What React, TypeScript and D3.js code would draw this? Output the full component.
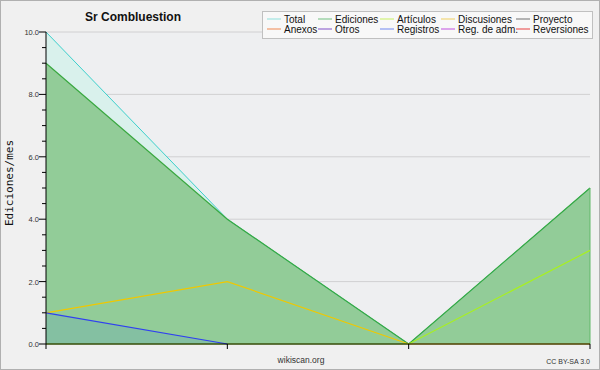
import React from "react";
import * as d3 from "d3";

const months = ["m1", "m2", "m3", "m4"];
const totalValues = [10, 4, 0, 5];
const edicionesValues = [9, 4, 0, 5];
const articulosValues = [0, 0, 0, 3];
const discusionesValues = [1, 2, 0, 0];
const registrosValues = [1, 0, null, null];
const yTicks = [0, 2, 4, 6, 8, 10];
const legendNames = ["Total", "Ediciones", "Artículos", "Discusiones", "Proyecto", "Anexos", "Otros", "Registros", "Reg. de adm.", "Reversiones"];
const legendColors = ["#8ee0dc", "#70c080", "#c8f060", "#f0d060", "#707070", "#f08850", "#8050c8", "#7088f0", "#c050e0", "#e84040"];

const W = 600, H = 370;
const L = 46, R = 590, T = 32, B = 344;
const FONT = "Liberation Sans, Arial, sans-serif";

export default function App() {
  const x = d3.scalePoint<string>().domain(months).range([L, R]);
  const y = d3.scaleLinear().domain([0, 10]).range([B, T]);
  const minor = d3.range(0, 10.01, 0.5);

  const area = (vals: (number | null)[]) =>
    d3.area<number | null>()
      .defined((d) => d !== null)
      .x((_, i) => x(months[i])!)
      .y0(y(0))
      .y1((d) => y(d as number))(vals) || "";
  const line = (vals: (number | null)[]) =>
    d3.line<number | null>()
      .defined((d) => d !== null)
      .x((_, i) => x(months[i])!)
      .y((d) => y(d as number))(vals) || "";

  const colX = [267, 318, 380, 441, 516];
  const rowY = [19, 29];

  return (
    <svg width={W} height={H} style={{ position: "absolute", left: 0, top: 0 }} fontFamily={FONT}>
      <rect x={0.5} y={0.5} width={W - 1} height={H - 1} fill="#f0f0f0" stroke="#b0b0b0" />
      <rect x={L} y={T} width={R - L} height={B - T} fill="#eeeff1" />
      {yTicks.map((t) => (
        <line key={"g" + t} x1={L} x2={R} y1={y(t)} y2={y(t)} stroke="#d0d0d2" />
      ))}
      <path d={area(totalValues)} fill="#d9f1ec" />
      <path d={area(edicionesValues)} fill="#92cc98" />
      <path d={area(registrosValues)} fill="#84c0a2" />
      <path d={line(totalValues)} fill="none" stroke="#3cd0cc" strokeWidth={1} />
      <path d={line(edicionesValues)} fill="none" stroke="#3aa840" strokeWidth={1.2} />
      <line x1={R} x2={R} y1={y(edicionesValues[3])} y2={B} stroke="#60b868" />
      <path d={line(discusionesValues)} fill="none" stroke="#f0c800" strokeWidth={1.2} />
      <path d={line(articulosValues)} fill="none" stroke="#a8f020" strokeWidth={1.2} />
      <path d={line(registrosValues)} fill="none" stroke="#3040f0" strokeWidth={1.2} />
      {/* axes */}
      <line x1={L} x2={L} y1={T} y2={B} stroke="#000" />
      <line x1={L} x2={R} y1={B} y2={B} stroke="#000" />
      {minor.map((t) => {
        const major = Math.abs(t % 2) < 1e-6;
        return <line key={"t" + t} x1={major ? L - 7 : L - 4} x2={L} y1={y(t)} y2={y(t)} stroke="#000" />;
      })}
      {yTicks.map((t) => (
        <text key={"l" + t} x={L - 7} y={y(t) + 3} textAnchor="end" fontSize={7.5} fill="#333">
          {t.toFixed(1)}
        </text>
      ))}
      {months.map((m) => (
        <line key={"x" + m} x1={x(m)!} x2={x(m)!} y1={B} y2={B + 5} stroke="#000" />
      ))}
      <text transform={`translate(13,${183}) rotate(-90)`} textAnchor="middle" fontSize={11} fontFamily="DejaVu Sans Mono, monospace" fill="#111">
        Ediciones/mes
      </text>
      <text x={133} y={21} textAnchor="middle" fontSize={12} fontWeight="bold" fill="#111">
        Sr Combluestion
      </text>
      <text x={301} y={363} textAnchor="middle" fontSize={8.5} fill="#333">wikiscan.org</text>
      <text x={590} y={364} textAnchor="end" fontSize={7} fill="#333">CC BY-SA 3.0</text>
      {/* legend */}
      <rect x={262.5} y={11.5} width={330} height={27} fill="#f8f8f8" stroke="#c0c0c0" />
      {legendNames.map((n, i) => {
        const c = i % 5, r = Math.floor(i / 5);
        const lx = colX[c], ly = rowY[r];
        return (
          <g key={n}>
            <line x1={lx} x2={lx + 14} y1={ly} y2={ly} stroke={legendColors[i]} />
            <text x={lx + 17} y={ly + 4} fontSize={10} fill="#111">{n}</text>
          </g>
        );
      })}
    </svg>
  );
}
